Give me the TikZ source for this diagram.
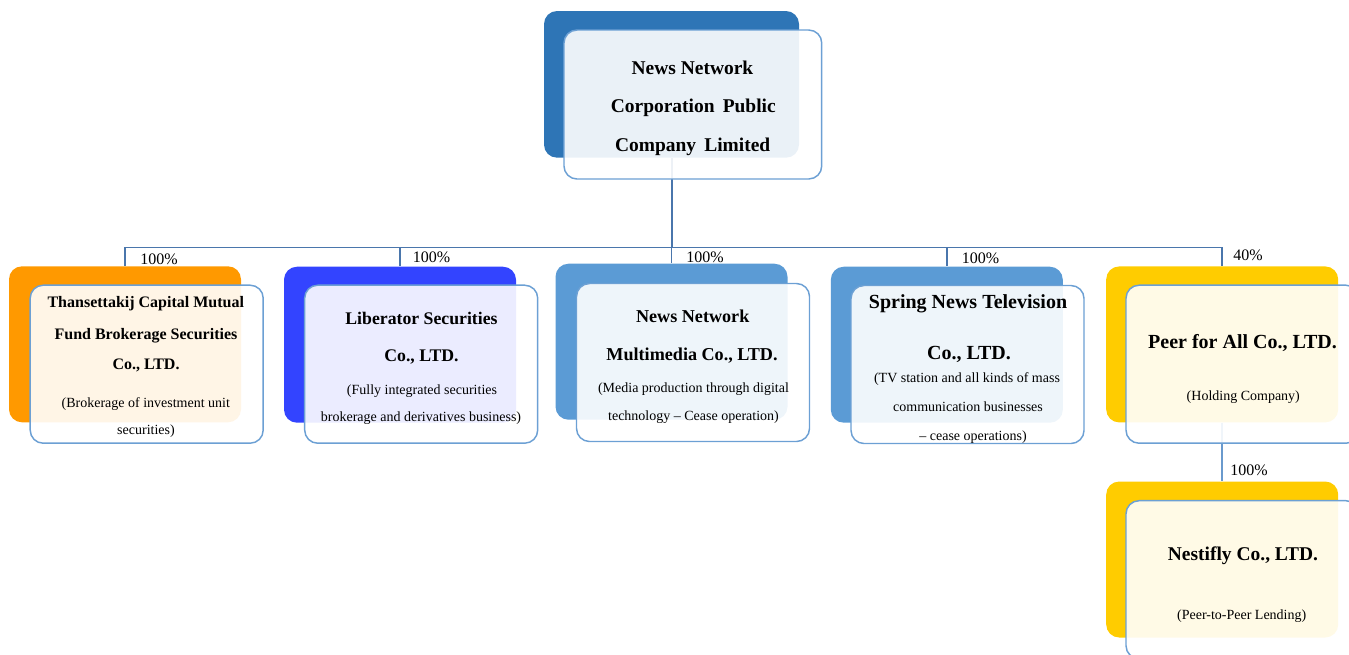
\documentclass[tikz,border=0pt]{standalone}
\usepackage{fontspec}
\setmainfont{Liberation Serif}
\definecolor{topblue}{RGB}{46,117,182}
\definecolor{orangeb}{RGB}{255,153,0}
\definecolor{brightblue}{RGB}{51,68,255}
\definecolor{midblue}{RGB}{91,155,213}
\definecolor{goldb}{RGB}{255,204,0}
\definecolor{edgeblue}{RGB}{108,160,212}
\definecolor{connblue}{RGB}{74,118,172}
\definecolor{lightconn}{RGB}{106,154,205}
\begin{document}
\begin{tikzpicture}[x=0.75pt,y=-0.75pt,
 backbox/.style={rectangle, rounded corners=9.75pt, inner sep=0pt, minimum width=174pt, minimum height=117pt, draw=none},
 frontbox/.style={rectangle, rounded corners=9.75pt, inner sep=0pt, minimum width=174.75pt, minimum height=118.5pt, draw=edgeblue, line width=1.1pt, fill=white, fill opacity=0.9},
 conn/.style={draw=connblue, line width=1.1pt},
 pct/.style={anchor=base west, inner sep=0pt, font=\fontsize{12}{14}\selectfont},
 ln/.style={anchor=base, inner sep=0pt},
 ftop/.style={font=\fontsize{14.6}{17}\selectfont\bfseries},
 fa/.style={font=\fontsize{12}{14}\selectfont\bfseries},
 fb/.style={font=\fontsize{13.3}{15}\selectfont\bfseries},
 fc/.style={font=\fontsize{13.6}{15}\selectfont\bfseries},
 fd/.style={font=\fontsize{15}{17}\selectfont\bfseries},
 fe/.style={font=\fontsize{14.6}{16}\selectfont\bfseries},
 fsm/.style={font=\fontsize{10.5}{12}\selectfont},
]
\useasboundingbox (0,0) rectangle (1349,654);
\clip (0,0) rectangle (1349,654);

% back boxes
\node[backbox, fill=topblue, minimum width=191.25pt, minimum height=110pt] (tb) at (671.5,84.35) {};
\node[backbox, fill=orangeb] (b1) at (125,344.3) {};
\node[backbox, fill=brightblue] (b2) at (400,344.7) {};
\node[backbox, fill=midblue] (b3) at (671.5,341.7) {};
\node[backbox, fill=midblue] (b4) at (946.8,344.7) {};
\node[backbox, fill=goldb] (b5) at (1222.2,344.4) {};
\node[backbox, fill=goldb] (b6) at (1222.2,559.5) {};

% connectors
\coordinate (j) at (671.5,247.3);
\draw[conn, line width=1.5pt] (tb.south) -- (j);
\draw[conn] (j) -| (b1.north);
\draw[conn] (j) -| (b2.north);
\draw[conn] (j) -- (b3.north);
\draw[conn] (j) -| (b4.north);
\draw[conn] (j) -| (b5.north);
\draw[conn, draw=lightconn] (b5.south) -- (b6.north);

% front boxes
\node[frontbox, minimum width=193.3pt, minimum height=111.75pt] (tf) at (692.85,104.5) {};
\node[frontbox] (f1) at (146.7,364.2) {};
\node[frontbox] (f2) at (421.2,364.2) {};
\node[frontbox] (f3) at (693,362.5) {};
\node[frontbox] (f4) at (967.5,364.5) {};
\node[frontbox] (f5) at (1242.5,364.2) {};
\node[frontbox] (f6) at (1242.5,579.7) {};

% percentages
\node[pct] (p1) at (140,264) {100\%};
\node[pct] (p2) at (412.7,262.7) {100\%};
\node[pct] (p3) at (686,262) {100\%};
\node[pct] (p4) at (961.7,263) {100\%};
\node[pct] (p5) at (1233,260) {40\%};
\node[pct] (p6) at (1230,475) {100\%};

% top text
\node[ln, ftop] (ta) at (692.5,74) {News Network};
\node[ln, ftop] (tb2) at (693.3,112) {Corporation\, Public};
\node[ln, ftop] (tc) at (692.7,151) {Company\, Limited};

% box 1
\node[ln, fa] (a1) at (145.8,307.7) {Thansettakij Capital Mutual};
\node[ln, fa] (a2) at (146,339) {Fund Brokerage Securities};
\node[ln, fa] (a3) at (146,369.3) {Co., LTD.};
\node[ln, fsm] (a4) at (145.8,407.7) {(Brokerage of investment unit};
\node[ln, fsm] (a5) at (146,434) {securities)};

% box 2
\node[ln, fb] (c1) at (421.5,324) {Liberator Securities};
\node[ln, fb] (c2) at (421.5,361.7) {Co., LTD.};
\node[ln, fsm] (c3) at (422,394) {(Fully integrated securities};
\node[ln, fsm] (c4) at (421,421.7) {brokerage and derivatives business)};

% box 3
\node[ln, fc] (d1) at (692.7,322.7) {News Network};
\node[ln, fc] (d2) at (692,360) {Multimedia Co., LTD.};
\node[ln, fsm] (d3) at (693.5,392.3) {(Media production through digital};
\node[ln, fsm] (d4) at (693.5,420) {technology -- Cease operation)};

% box 4
\node[ln, fd] (e1) at (968,308.3) {Spring News Television};
\node[ln, fd] (e2) at (969,359) {Co., LTD.};
\node[ln, fsm] (e3) at (967,382.7) {(TV station and all kinds of mass};
\node[ln, fsm] (e4) at (968,411.7) {communication businesses};
\node[ln, fsm] (e5) at (973,440) {-- cease operations)};

% box 5
\node[ln, fd] (g1) at (1242.5,348.3) {Peer for All Co., LTD.};
\node[ln, fsm] (g2) at (1243.3,400.7) {(Holding Company)};

% box 6
\node[ln, fe] (h1) at (1243,560.7) {Nestifly Co., LTD.};
\node[ln, fsm] (h2) at (1241.7,619) {(Peer-to-Peer Lending)};
\end{tikzpicture}
\end{document}
